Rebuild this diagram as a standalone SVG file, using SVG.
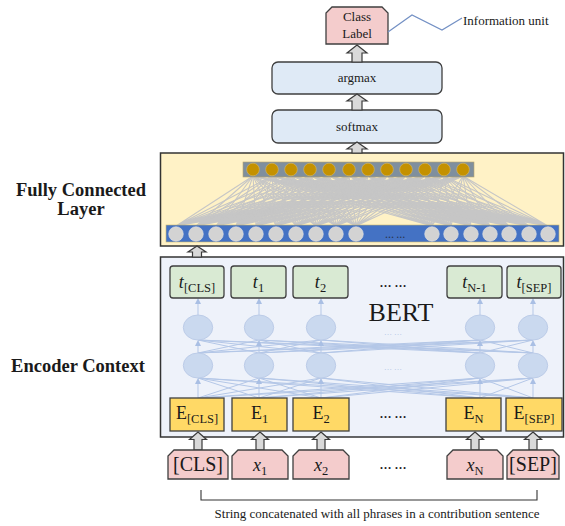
<svg xmlns="http://www.w3.org/2000/svg" width="565" height="526" viewBox="0 0 565 526">
<defs>
<marker id="ah" markerWidth="6" markerHeight="6" refX="3" refY="3" orient="auto" markerUnits="userSpaceOnUse">
<path d="M0,0 L6,3 L0,6 Z" fill="#a9bfe4"/>
</marker>
<style>
text{font-family:"Liberation Serif","Times New Roman",serif;fill:#1a1a1a}
.box{stroke:#3f3f3f;stroke-width:1.3}
.pink{fill:#f4cccc}
.blue{fill:#dfeaf6}
.green{fill:#d9ead3}
.gold{fill:#ffd966}
.barrow{fill:#d9d9d9;stroke:#3a3a3a;stroke-width:1.2}
.fcl{fill:none;stroke:#c6c6c6;stroke-width:1.1}
.enc{fill:none;stroke:#b4c7e7;stroke-width:1}
.ell{fill:#cad9ef;stroke:#bccce8;stroke-width:1}
.lbl{font-size:18.5px;font-weight:bold;text-anchor:middle}
.mid{text-anchor:middle}
.dots{font-size:12px;text-anchor:middle;font-weight:bold}
.ldots{font-size:8px;text-anchor:middle;fill:#a9bfe4}
</style>
</defs>

<!-- left labels -->
<g id="label-fc">
<text class="lbl" x="81" y="196">Fully Connected</text>
<text class="lbl" x="81" y="215">Layer</text>
</g>
<g id="label-encoder">
<text class="lbl" x="78" y="372">Encoder Context</text>
</g>

<!-- Class label -->
<g id="class-label">
<path class="box pink" d="M332,7 H382 L388,13 V44 H326 V13 Z"/>
<text class="mid" x="357" y="21" font-size="13">Class</text>
<text class="mid" x="357" y="38" font-size="13">Label</text>
</g>
<g id="info-unit">
<polyline points="388,32 412,15 442,30 462,18" fill="none" stroke="#7390c4" stroke-width="1.2"/>
<text x="463" y="25" font-size="13">Information unit</text>
</g>

<g id="argmax">
<rect class="box blue" x="272" y="62" width="170" height="32" rx="6"/>
<text class="mid" x="357" y="82" font-size="13">argmax</text>
</g>
<g id="softmax">
<rect class="box blue" x="272" y="110" width="170" height="33" rx="6"/>
<text class="mid" x="357" y="131" font-size="13">softmax</text>
</g>

<!-- Fully connected layer -->
<g id="fc-layer">
<rect x="160.5" y="153" width="403" height="93" fill="#fff2c6" stroke="#333" stroke-width="1.5"/>
<g id="fc-weights">
<polyline class="fcl" points="253,176 176,226 272,176 176,226 291,176 176,226 310,176 176,226 329,176 176,226 349,176 176,226 368,176 176,226 387,176 176,226 406,176 176,226 425,176 176,226 444,176 176,226 463,176"/>
<polyline class="fcl" points="253,176 196,226 272,176 196,226 291,176 196,226 310,176 196,226 329,176 196,226 349,176 196,226 368,176 196,226 387,176 196,226 406,176 196,226 425,176 196,226 444,176 196,226 463,176"/>
<polyline class="fcl" points="253,176 216,226 272,176 216,226 291,176 216,226 310,176 216,226 329,176 216,226 349,176 216,226 368,176 216,226 387,176 216,226 406,176 216,226 425,176 216,226 444,176 216,226 463,176"/>
<polyline class="fcl" points="253,176 236,226 272,176 236,226 291,176 236,226 310,176 236,226 329,176 236,226 349,176 236,226 368,176 236,226 387,176 236,226 406,176 236,226 425,176 236,226 444,176 236,226 463,176"/>
<polyline class="fcl" points="253,176 256,226 272,176 256,226 291,176 256,226 310,176 256,226 329,176 256,226 349,176 256,226 368,176 256,226 387,176 256,226 406,176 256,226 425,176 256,226 444,176 256,226 463,176"/>
<polyline class="fcl" points="253,176 276,226 272,176 276,226 291,176 276,226 310,176 276,226 329,176 276,226 349,176 276,226 368,176 276,226 387,176 276,226 406,176 276,226 425,176 276,226 444,176 276,226 463,176"/>
<polyline class="fcl" points="253,176 296,226 272,176 296,226 291,176 296,226 310,176 296,226 329,176 296,226 349,176 296,226 368,176 296,226 387,176 296,226 406,176 296,226 425,176 296,226 444,176 296,226 463,176"/>
<polyline class="fcl" points="253,176 316,226 272,176 316,226 291,176 316,226 310,176 316,226 329,176 316,226 349,176 316,226 368,176 316,226 387,176 316,226 406,176 316,226 425,176 316,226 444,176 316,226 463,176"/>
<polyline class="fcl" points="253,176 336,226 272,176 336,226 291,176 336,226 310,176 336,226 329,176 336,226 349,176 336,226 368,176 336,226 387,176 336,226 406,176 336,226 425,176 336,226 444,176 336,226 463,176"/>
<polyline class="fcl" points="253,176 356,226 272,176 356,226 291,176 356,226 310,176 356,226 329,176 356,226 349,176 356,226 368,176 356,226 387,176 356,226 406,176 356,226 425,176 356,226 444,176 356,226 463,176"/>
<polyline class="fcl" points="253,176 432,226 272,176 432,226 291,176 432,226 310,176 432,226 329,176 432,226 349,176 432,226 368,176 432,226 387,176 432,226 406,176 432,226 425,176 432,226 444,176 432,226 463,176"/>
<polyline class="fcl" points="253,176 451,226 272,176 451,226 291,176 451,226 310,176 451,226 329,176 451,226 349,176 451,226 368,176 451,226 387,176 451,226 406,176 451,226 425,176 451,226 444,176 451,226 463,176"/>
<polyline class="fcl" points="253,176 471,226 272,176 471,226 291,176 471,226 310,176 471,226 329,176 471,226 349,176 471,226 368,176 471,226 387,176 471,226 406,176 471,226 425,176 471,226 444,176 471,226 463,176"/>
<polyline class="fcl" points="253,176 490,226 272,176 490,226 291,176 490,226 310,176 490,226 329,176 490,226 349,176 490,226 368,176 490,226 387,176 490,226 406,176 490,226 425,176 490,226 444,176 490,226 463,176"/>
<polyline class="fcl" points="253,176 509,226 272,176 509,226 291,176 509,226 310,176 509,226 329,176 509,226 349,176 509,226 368,176 509,226 387,176 509,226 406,176 509,226 425,176 509,226 444,176 509,226 463,176"/>
<polyline class="fcl" points="253,176 529,226 272,176 529,226 291,176 529,226 310,176 529,226 329,176 529,226 349,176 529,226 368,176 529,226 387,176 529,226 406,176 529,226 425,176 529,226 444,176 529,226 463,176"/>
<polyline class="fcl" points="253,176 548,226 272,176 548,226 291,176 548,226 310,176 548,226 329,176 548,226 349,176 548,226 368,176 548,226 387,176 548,226 406,176 548,226 425,176 548,226 444,176 548,226 463,176"/>
</g>
<g id="fc-output-neurons">
<rect x="243" y="162" width="231" height="15" fill="#7f8f9e" stroke="#b8a66a" stroke-width="0.6"/>
<g fill="#c49100" stroke="#d7b860" stroke-width="0.6">
<circle cx="253" cy="169.5" r="6.3"/><circle cx="272" cy="169.5" r="6.3"/><circle cx="291" cy="169.5" r="6.3"/><circle cx="310" cy="169.5" r="6.3"/><circle cx="329" cy="169.5" r="6.3"/><circle cx="349" cy="169.5" r="6.3"/><circle cx="368" cy="169.5" r="6.3"/><circle cx="387" cy="169.5" r="6.3"/><circle cx="406" cy="169.5" r="6.3"/><circle cx="425" cy="169.5" r="6.3"/><circle cx="444" cy="169.5" r="6.3"/><circle cx="463" cy="169.5" r="6.3"/>
</g>
</g>
<g id="fc-input-neurons">
<rect x="166" y="225" width="393" height="17" fill="#4472c4" stroke="#c9b56e" stroke-width="0.6"/>
<g fill="#d3d3d3" stroke="#e0e0e0" stroke-width="0.6">
<circle cx="176" cy="234" r="7.3"/><circle cx="196" cy="234" r="7.3"/><circle cx="216" cy="234" r="7.3"/><circle cx="236" cy="234" r="7.3"/><circle cx="256" cy="234" r="7.3"/><circle cx="276" cy="234" r="7.3"/><circle cx="296" cy="234" r="7.3"/><circle cx="316" cy="234" r="7.3"/><circle cx="336" cy="234" r="7.3"/><circle cx="356" cy="234" r="7.3"/>
<circle cx="432" cy="234" r="7.3"/><circle cx="451" cy="234" r="7.3"/><circle cx="471" cy="234" r="7.3"/><circle cx="490" cy="234" r="7.3"/><circle cx="509" cy="234" r="7.3"/><circle cx="529" cy="234" r="7.3"/><circle cx="548" cy="234" r="7.3"/>
</g>
<text x="395" y="238" font-size="9" text-anchor="middle" style="fill:#2a3550;font-weight:bold">… …</text>
</g>
</g>

<!-- BERT encoder -->
<g id="bert">
<rect x="160.5" y="257" width="403" height="180" fill="#eef2fa" stroke="#333" stroke-width="1.5"/>
<text class="mid" x="401" y="321" font-size="26">BERT</text>
</g>

<g id="connectors">
<path class="enc" d="M198 398L259 378M198 398L321 378M198 398L480 378M198 398L533 378M259 398L198 378M259 398L321 378M259 398L480 378M259 398L533 378M321 398L198 378M321 398L259 378M321 398L480 378M321 398L533 378M480 398L198 378M480 398L259 378M480 398L321 378M480 398L533 378M533 398L198 378M533 398L259 378M533 398L321 378M533 398L480 378"/>
<path class="enc" d="M198 353L259 340M198 353L321 340M198 353L480 340M198 353L533 340M259 353L198 340M259 353L321 340M259 353L480 340M259 353L533 340M321 353L198 340M321 353L259 340M321 353L480 340M321 353L533 340M480 353L198 340M480 353L259 340M480 353L321 340M480 353L533 340M533 353L198 340M533 353L259 340M533 353L321 340M533 353L480 340"/>
<g class="enc" marker-end="url(#ah)">
<line x1="198" y1="398" x2="198" y2="381"/><line x1="259" y1="398" x2="259" y2="381"/><line x1="321" y1="398" x2="321" y2="381"/><line x1="480" y1="398" x2="480" y2="381"/><line x1="533" y1="398" x2="533" y2="381"/>
<line x1="198" y1="353" x2="198" y2="343"/><line x1="259" y1="353" x2="259" y2="343"/><line x1="321" y1="353" x2="321" y2="343"/><line x1="480" y1="353" x2="480" y2="343"/><line x1="533" y1="353" x2="533" y2="343"/>
<line x1="198" y1="315" x2="198" y2="301"/><line x1="259" y1="315" x2="259" y2="301"/><line x1="321" y1="315" x2="321" y2="301"/><line x1="480" y1="315" x2="480" y2="301"/><line x1="533" y1="315" x2="533" y2="301"/>
</g>
<!-- block arrows -->
<path class="barrow" d="M357,45 L367,53 L362,53 L362,62 L352,62 L352,53 L347,53 Z"/>
<path class="barrow" d="M357,94 L367,101 L362,101 L362,110 L352,110 L352,101 L347,101 Z"/>
<path class="barrow" d="M357,142 L367,149 L362,149 L362,153 L352,153 L352,149 L347,149 Z"/>
<path class="barrow" d="M197,246 L206,252 L201.5,252 L201.5,257 L192.5,257 L192.5,252 L188,252 Z"/>
<path class="barrow" d="M198,432 L206.5,439.5 L202,439.5 L202,450 L194,450 L194,439.5 L189.5,439.5 Z"/>
<path class="barrow" d="M260,432 L268.5,439.5 L264,439.5 L264,450 L256,450 L256,439.5 L251.5,439.5 Z"/>
<path class="barrow" d="M321,432 L329.5,439.5 L325,439.5 L325,450 L317,450 L317,439.5 L312.5,439.5 Z"/>
<path class="barrow" d="M475,432 L483.5,439.5 L479,439.5 L479,450 L471,450 L471,439.5 L466.5,439.5 Z"/>
<path class="barrow" d="M533,432 L541.5,439.5 L537,439.5 L537,450 L529,450 L529,439.5 L524.5,439.5 Z"/>
<!-- bracket -->
<polyline points="201,490 201,500 537,500 537,490" fill="none" stroke="#333" stroke-width="1.1"/>
</g>

<!-- hidden layer neurons -->
<g id="hidden-upper">
<ellipse class="ell" cx="198" cy="327.5" rx="14.7" ry="12.5"/>
<ellipse class="ell" cx="259" cy="327.5" rx="14.7" ry="12.5"/>
<ellipse class="ell" cx="321" cy="327.5" rx="14.7" ry="12.5"/>
<ellipse class="ell" cx="480" cy="327.5" rx="14.7" ry="12.5"/>
<ellipse class="ell" cx="533" cy="327.5" rx="14.7" ry="12.5"/>
<text class="ldots" x="393" y="335">… …</text>
</g>
<g id="hidden-lower">
<ellipse class="ell" cx="198" cy="365.5" rx="14.7" ry="12.5"/>
<ellipse class="ell" cx="259" cy="365.5" rx="14.7" ry="12.5"/>
<ellipse class="ell" cx="321" cy="365.5" rx="14.7" ry="12.5"/>
<ellipse class="ell" cx="480" cy="365.5" rx="14.7" ry="12.5"/>
<ellipse class="ell" cx="533" cy="365.5" rx="14.7" ry="12.5"/>
<text class="ldots" x="393" y="370">… …</text>
</g>

<!-- output tokens -->
<g id="t-cls"><rect class="box green" x="170" y="266" width="54" height="32" rx="3"/><text class="mid" x="197" y="288" font-size="18"><tspan font-style="italic">t</tspan><tspan font-size="12.5" dy="4">[CLS]</tspan></text></g>
<g id="t-1"><rect class="box green" x="231" y="266" width="55" height="32" rx="3"/><text class="mid" x="258.5" y="288" font-size="18"><tspan font-style="italic">t</tspan><tspan font-size="12.5" dy="4">1</tspan></text></g>
<g id="t-2"><rect class="box green" x="293" y="266" width="55" height="32" rx="3"/><text class="mid" x="320.5" y="288" font-size="18"><tspan font-style="italic">t</tspan><tspan font-size="12.5" dy="4">2</tspan></text></g>
<g id="t-dots"><text class="dots" x="393" y="287">… …</text></g>
<g id="t-n1"><rect class="box green" x="447" y="266" width="55" height="32" rx="3"/><text class="mid" x="474.5" y="288" font-size="18"><tspan font-style="italic">t</tspan><tspan font-size="12.5" dy="4">N-1</tspan></text></g>
<g id="t-sep"><rect class="box green" x="507" y="266" width="54" height="32" rx="3"/><text class="mid" x="534" y="288" font-size="18"><tspan font-style="italic">t</tspan><tspan font-size="12.5" dy="4">[SEP]</tspan></text></g>

<!-- embeddings -->
<g id="e-cls"><rect class="box gold" x="170" y="398" width="54" height="33"/><text class="mid" x="197" y="419" font-size="18">E<tspan font-size="12.5" dy="4">[CLS]</tspan></text></g>
<g id="e-1"><rect class="box gold" x="232" y="398" width="55" height="33"/><text class="mid" x="259.5" y="419" font-size="18">E<tspan font-size="12.5" dy="4">1</tspan></text></g>
<g id="e-2"><rect class="box gold" x="293" y="398" width="56" height="33"/><text class="mid" x="321" y="419" font-size="18">E<tspan font-size="12.5" dy="4">2</tspan></text></g>
<g id="e-dots"><text class="dots" x="393" y="418">… …</text></g>
<g id="e-n"><rect class="box gold" x="446" y="398" width="55" height="33"/><text class="mid" x="473.5" y="419" font-size="18">E<tspan font-size="12.5" dy="4">N</tspan></text></g>
<g id="e-sep"><rect class="box gold" x="506" y="398" width="56" height="33"/><text class="mid" x="534" y="419" font-size="18">E<tspan font-size="12.5" dy="4">[SEP]</tspan></text></g>

<!-- inputs -->
<g id="in-cls"><path class="box pink" d="M174,450 H222 L228,456 V479 H168 V456 Z"/><text class="mid" x="198" y="471" font-size="20">[CLS]</text></g>
<g id="in-x1"><path class="box pink" d="M238,450 H282 L288,456 V479 H232 V456 Z"/><text class="mid" x="260" y="471" font-size="18"><tspan font-style="italic">x</tspan><tspan font-size="12.5" dy="4">1</tspan></text></g>
<g id="in-x2"><path class="box pink" d="M299,450 H343 L349,456 V479 H293 V456 Z"/><text class="mid" x="321" y="471" font-size="18"><tspan font-style="italic">x</tspan><tspan font-size="12.5" dy="4">2</tspan></text></g>
<g id="in-dots"><text class="dots" x="393" y="469">… …</text></g>
<g id="in-xn"><path class="box pink" d="M453,450 H497 L503,456 V479 H447 V456 Z"/><text class="mid" x="475" y="471" font-size="18"><tspan font-style="italic">x</tspan><tspan font-size="12.5" dy="4">N</tspan></text></g>
<g id="in-sep"><path class="box pink" d="M513,450 H553 L559,456 V479 H507 V456 Z"/><text class="mid" x="533" y="471" font-size="20">[SEP]</text></g>

<g id="caption">
<text class="mid" x="377" y="518" font-size="13">String concatenated with all phrases in a contribution sentence</text>
</g>
</svg>
